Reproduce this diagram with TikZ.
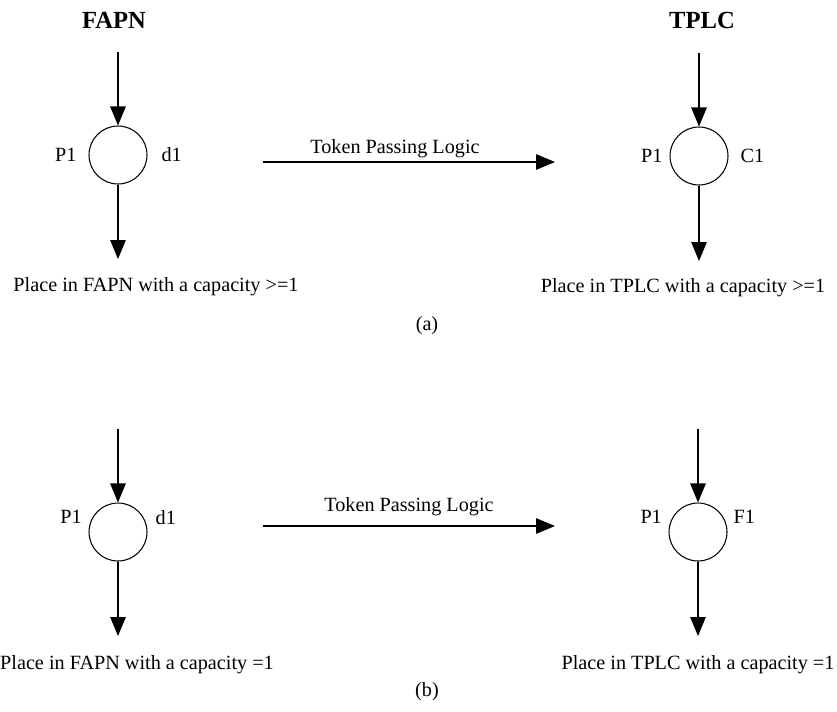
\documentclass[tikz,border=0pt]{standalone}
\usepackage{fontspec}
\setmainfont{Liberation Serif}
\usetikzlibrary{arrows.meta}
\usetikzlibrary{positioning}

\tikzset{
	place/.style={circle,draw,line width=0.6pt,minimum size=1.16cm,inner sep=0pt},
	flow/.style={-{Triangle[length=0.38cm,width=0.31cm]},line width=0.6pt},
	note/.style={inner sep=1pt,font=\fontsize{11.5}{13}\selectfont},
	heading/.style={inner sep=1pt,font=\fontsize{14}{16}\selectfont\bfseries},
}

\begin{document}
\begin{tikzpicture}[x=0.02cm,y=-0.02cm]
	\useasboundingbox (0,0) rectangle (837,711);
	
	%--- (a) place with a capacity >=1 ---
	\begin{scope}
		% FAPN side
		\node[heading] (fapn) at (114,20) {FAPN};
		\node[place] (pa) at (118,155) {};
		\coordinate (pain) at (118,52);
		\coordinate (paout) at (118,259);
		\draw[flow] (pain) -- (pa);
		\draw[flow] (pa) -- (paout);
		\node[note,left=0.2cm of pa] (pal) {P1};
		\node[note,right=0.24cm of pa] (par) {d1};
		\node[note] (pacap) at (156,287) {Place in FAPN with a capacity >=1};
		
		% token passing arrow
		\coordinate (tafrom) at (263,162);
		\coordinate (tato) at (555,162);
		\draw[flow] (tafrom) -- (tato);
		\node[note] (talbl) at (395,149) {Token Passing Logic};
		
		% TPLC side
		\node[heading] (tplc) at (702,20) {TPLC};
		\node[place] (qa) at (699,156) {};
		\coordinate (qain) at (699,53);
		\coordinate (qaout) at (699,261);
		\draw[flow] (qain) -- (qa);
		\draw[flow] (qa) -- (qaout);
		\node[note,left=0.1cm of qa] (qal) {P1};
		\node[note,right=0.2cm of qa] (qar) {C1};
		\node[note] (qacap) at (683,288) {Place in TPLC with a capacity >=1};
		
		\node[note] (capa) at (427,326) {(a)};
	\end{scope}
	
	%--- (b) place with a capacity =1 ---
	\begin{scope}
		% FAPN side
		\node[place] (pb) at (118,532) {};
		\coordinate (pbin) at (118,429);
		\coordinate (pbout) at (118,636);
		\draw[flow] (pbin) -- (pb);
		\draw[flow] (pb) -- (pbout);
		\node[note,left=0.17cm of pb.150] (pbl) {P1};
		\node[note,right=0.2cm of pb.30] (pbr) {d1};
		\node[note] (pbcap) at (137,665) {Place in FAPN with a capacity =1};
		
		% token passing arrow
		\coordinate (tbfrom) at (263,526);
		\coordinate (tbto) at (555,526);
		\draw[flow] (tbfrom) -- (tbto);
		\node[note] (tblbl) at (409,507) {Token Passing Logic};
		
		% TPLC side
		\node[place] (qb) at (698,532) {};
		\coordinate (qbin) at (698,429);
		\coordinate (qbout) at (698,636);
		\draw[flow] (qbin) -- (qb);
		\draw[flow] (qb) -- (qbout);
		\node[note,left=0.17cm of qb.150] (qbl) {P1};
		\node[note,right=0.16cm of qb.30] (qbr) {F1};
		\node[note] (qbcap) at (698,665) {Place in TPLC with a capacity =1};
		
		\node[note] (capb) at (427,692) {(b)};
	\end{scope}
	
\end{tikzpicture}
\end{document}
